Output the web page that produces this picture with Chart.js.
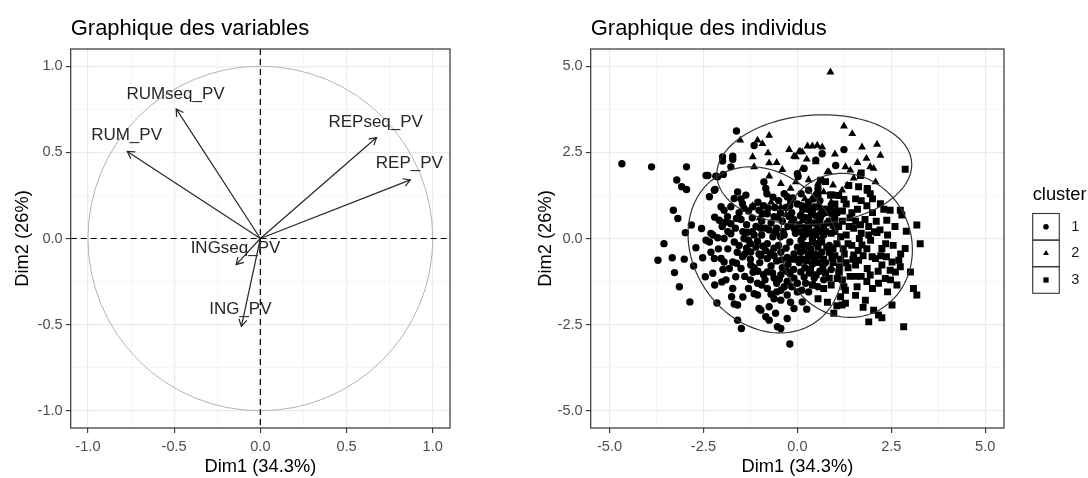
<!DOCTYPE html>
<html>
<head>
<meta charset="utf-8">
<script src="https://cdn.jsdelivr.net/npm/chart.js@4.4.1/dist/chart.umd.min.js"></script>
<style>
  body { margin: 0; background: #fff; }
  #wrap { position: relative; width: 1088px; height: 478px; }
  canvas { position: absolute; top: 0; }
  #varChart { left: 0; }
  #indChart { left: 530px; }
</style>
</head>
<body>
<div id="wrap">
  <canvas id="varChart" width="460" height="478"></canvas>
  <canvas id="indChart" width="558" height="478"></canvas>
</div>
<script>
// ---- variables plot (correlation circle) ----
const varNames = ['RUMseq_PV', 'RUM_PV', 'REPseq_PV', 'REP_PV', 'INGseq_PV', 'ING_PV'];
const varDim1 = [-0.488, -0.772, 0.674, 0.870, -0.140, -0.110];
const varDim2 = [0.752, 0.505, 0.586, 0.340, -0.152, -0.510];
const labelDim1 = [-0.492, -0.776, 0.669, 0.864, -0.144, -0.116];
const labelDim2 = [0.837, 0.597, 0.672, 0.437, -0.056, -0.413];
const varTicks = [-1, -0.5, 0, 0.5, 1];
const varMinorTicks = [-0.75, -0.25, 0.25, 0.75];

// ---- individuals plot ----
const indTicks = [-5, -2.5, 0, 2.5, 5];
const indMinorTicks = [-3.75, -1.25, 1.25, 3.75];
const clusterNames = ['1', '2', '3'];
const clusterStyles = ['circle', 'triangle', 'rect'];
const legendTitle = 'cluster';

const cluster1Points = [
  [-4.67, 2.17], [-3.88, 2.08], [-2.95, 2.08], [-3.21, 1.70], [-3.08, 1.50], [-2.95, 1.42], [-3.30, 0.82],
  [-3.18, 0.58], [-2.82, 0.39], [-2.98, 0.17], [-3.55, -0.15], [-2.38, 1.83], [-2.19, 1.42], [-2.34, 1.21],
  [-2.55, 0.29], [-1.62, 3.12], [-1.72, 2.39], [-1.77, 2.08], [-1.99, 2.37], [-1.99, 2.25], [-2.12, 1.79],
  [-1.97, 1.86], [-2.43, 1.83], [-2.17, 1.81], [-1.15, 2.70], [-0.89, 1.64], [-0.84, 1.45], [-0.81, 1.30],
  [0.00, 1.88], [0.66, 2.46], [1.24, 2.58], [1.02, 2.12], [0.49, 2.27], [0.02, 1.80], [0.18, 2.03],
  [-3.71, -0.63], [-3.33, -0.56], [-3.27, -0.99], [-3.14, -1.40], [-2.86, -1.84], [-3.01, -0.60], [-2.76, -0.80],
  [-2.70, -0.27], [-2.45, -1.11], [-2.52, -0.56], [-2.14, -1.87], [-2.01, -1.26], [-1.59, -2.37], [-1.49, -2.61],
  [-1.75, -1.69], [-1.68, -1.90], [-0.97, -2.08], [-0.75, -2.37], [-0.44, -2.61], [-0.20, -3.06], [-0.53, -2.56],
  [-2.25, -1.01], [-2.21, -0.58], [-1.59, -1.93], [-1.02, -2.03], [-0.84, -2.27], [-0.75, -1.98], [-0.58, -2.17],
  [-0.27, -2.32], [-0.09, -2.03], [-0.44, -1.79], [-1.06, -1.64], [-1.72, -1.45], [-1.64, -1.11], [-1.50, -0.87],
  [-1.81, -0.87], [-2.03, -0.58], [-1.95, -0.68], [-1.72, -0.68], [-1.46, -0.53], [-1.24, -0.39], [-2.43, -0.05],
  [-2.34, -0.10], [-2.25, 0.10], [-2.12, 0.02], [-1.95, 0.00], [-1.77, 0.14], [-1.68, -0.10], [-1.55, -0.20],
  [-1.42, 0.00], [-1.33, 0.18], [-1.15, 0.10], [-1.06, -0.08], [-1.24, -0.77], [-1.15, -0.85], [-1.06, -1.30],
  [-0.95, -1.35], [-0.80, -1.45], [-0.70, -1.62], [-0.62, -1.75], [-0.44, -1.50], [-0.27, -1.64], [-0.18, -1.85],
  [0.00, -1.55], [0.13, -1.84], [0.25, -2.05], [-0.80, -0.97], [-0.62, -1.15], [-0.44, -1.05], [-0.27, -1.25],
  [-0.09, -1.15], [0.09, -0.97], [0.22, -1.30], [-0.97, -0.50], [-0.80, -0.58], [-0.62, -0.50], [-0.44, -0.40],
  [-0.27, -0.55], [-0.09, -0.45], [0.09, -0.40], [0.27, -0.58],
  [-1.72, 2.30], [-2.21, 1.40], [-1.59, 1.35], [-1.37, 1.26], [-1.46, 1.01], [-1.68, 1.16], [-1.77, 0.92],
  [-2.03, 0.92], [-1.95, 0.82], [-1.86, 0.63], [-2.08, 0.53], [-1.77, 0.43], [-1.19, 0.92], [-1.02, 0.82],
  [-0.80, 0.72], [-0.62, 0.63], [-0.27, 1.21], [-0.18, 1.10],
  [-1.50, 0.55], [-1.35, 0.40], [-1.20, 0.60], [-1.10, 0.35], [-0.95, 0.50], [-0.85, 0.30], [-0.70, 0.45],
  [-0.55, 0.30], [-0.40, 0.50], [-0.25, 0.35], [-0.10, 0.55], [0.05, 0.40], [0.20, 0.60], [0.35, 0.45], [0.50, 0.65],
  [-1.45, 0.20], [-1.30, -0.05], [-1.10, -0.25], [-0.95, 0.10], [-0.80, -0.15], [-0.65, 0.05], [-0.50, -0.20],
  [-0.35, 0.10], [-0.20, -0.10], [-0.05, 0.15], [0.10, -0.05], [0.25, 0.20], [0.40, 0.00], [0.55, 0.25], [0.70, 0.10],
  [-1.40, -0.45], [-1.25, -0.60], [-1.00, -0.70], [-0.85, -0.35], [-0.70, -0.80], [-0.55, -0.65], [-0.40, -0.85],
  [-0.25, -0.75], [-0.10, -0.90], [0.05, -0.70], [0.20, -0.85], [0.35, -0.30], [0.50, -0.15], [0.65, -0.40], [0.40, -0.75],
  [-0.60, 0.90], [-0.45, 0.75], [-0.30, 0.90], [-0.15, 0.75], [0.00, 1.00], [0.15, 0.85], [0.30, 1.05], [0.45, 0.90],
  [0.60, 1.10], [-0.50, 1.10], [-0.35, 1.30], [0.10, 1.30], [0.30, 1.40], [0.55, 1.45], [-0.65, 1.20],
  [-1.30, 0.80], [-1.05, 1.05], [-0.90, 0.95], [-1.55, 0.75], [-1.65, 0.30], [-1.85, 0.20], [-2.00, 0.35],
  [-1.60, -0.40], [-1.85, -0.30], [-2.10, -0.30], [-2.30, -0.40], [-1.40, -1.10], [-1.25, -1.20], [-1.30, -1.45],
  [-1.15, -1.60], [-1.45, -1.70], [-1.90, -1.20], [-2.20, -1.35],
  [0.75, -0.70], [0.80, 0.45], [0.85, -0.20], [0.60, -0.95], [0.45, -1.15], [0.30, -1.55], [0.55, -1.40],
  [0.70, -1.20], [0.90, -0.90], [0.95, 0.70], [0.75, 0.85], [-0.55, -1.30], [-0.35, -1.40], [-0.90, -1.05], [-1.05, -0.95],
  [-0.92, 0.72], [-0.78, 0.88], [-0.52, 0.62], [-0.38, 0.20], [-0.22, 0.64], [-0.08, 0.28], [0.08, 0.66], [0.22, 0.12],
  [0.38, 0.72], [0.52, 0.42], [0.62, -0.05], [-0.92, -0.22], [-0.72, -0.42], [-0.58, 0.18], [-0.42, -0.62],
  [-0.30, -0.28], [-0.14, -0.60], [0.00, -0.25], [0.14, -0.18], [0.30, -0.48], [0.45, -0.60], [0.60, 0.58],
  [-1.20, 0.20], [-1.02, -0.45], [-1.18, -0.98], [-0.86, -1.20], [-0.66, -1.00], [-0.48, -1.18], [-0.20, -1.02],
  [0.00, -1.30], [0.18, -1.12], [0.12, 0.95], [-0.12, 1.18], [0.42, 1.15], [-1.62, 0.58], [-1.42, 0.88],
  [-1.90, 0.48], [-2.20, 0.62], [-2.30, 0.15], [-1.98, -0.90], [-1.62, -0.72], [-1.35, -0.28], [-1.50, 1.15],
  [-0.45, 0.05], [-0.15, 0.45], [0.28, 0.38], [0.48, 0.22], [0.18, -0.35], [-0.62, -0.28], [-0.28, -0.95],
  [0.32, -1.00], [-0.75, 0.25], [-0.05, -0.60], [0.68, 0.72], [0.28, 0.85], [-0.20, 0.95], [-0.98, 0.30],
  [-1.25, -0.15], [0.55, -0.50], [0.12, -1.50], [-0.55, -1.55], [-0.15, -1.40], [0.42, -1.35]
];

const cluster2Points = [
  [0.88, 4.83], [1.24, 3.26], [1.46, 3.04], [-0.22, 2.58], [-0.09, 2.39], [0.07, 2.53], [0.40, 2.68], [0.53, 2.70],
  [0.66, 2.65], [1.72, 2.65], [2.12, 2.73], [2.21, 2.41], [1.84, 2.32], [1.94, 2.08], [2.03, 2.03], [1.28, 2.08],
  [1.41, 1.98], [0.13, 2.03], [0.84, 1.93], [1.33, 1.54], [1.19, 1.40], [2.08, 1.64], [-1.52, 2.85], [-0.75, 2.99],
  [-1.06, 2.85], [-0.93, 2.75], [-1.19, 2.37], [-0.78, 2.48], [-0.75, 2.19], [-1.15, 2.08], [0.04, 2.51],
  [-0.04, 2.37], [0.27, 2.68], [-0.75, 1.81], [-0.44, 1.59], [-0.18, 1.45], [-0.04, 1.64], [-1.19, 0.95],
  [-0.44, 0.92], [0.49, 2.22], [0.80, 1.93], [0.13, 2.51], [0.30, 1.70], [0.55, 1.60], [0.70, 1.35], [0.95, 1.55],
  [0.20, 1.15], [0.45, 1.25], [-0.30, 0.70], [0.10, 0.75], [0.60, 0.95], [0.90, 1.05], [1.05, 0.85], [-0.70, 1.05],
  [-1.00, 0.60], [0.35, 0.85], [1.60, 2.20], [1.00, 2.45], [0.25, 2.30], [-0.55, 2.20], [-0.40, 2.00], [1.50, 1.75]
];

const cluster3Points = [
  [2.87, 2.01], [1.68, 1.83], [1.70, 1.90], [0.62, 1.69], [0.75, 1.65], [1.37, 1.54], [1.63, 1.50], [1.86, 1.45],
  [1.94, 1.30], [2.21, 1.01], [2.47, 0.82], [2.74, 0.82], [2.78, 0.68], [3.18, 0.39], [0.88, 1.26], [1.24, 1.13],
  [2.12, 0.17], [2.40, 0.10], [2.90, 0.21], [3.27, -0.15], [2.87, -0.29], [2.25, -0.29], [1.72, -0.19], [1.99, -0.53],
  [2.08, -0.58], [2.37, -0.53], [2.25, -0.77], [2.52, -0.68], [2.70, -0.63], [2.74, -0.82], [2.47, -0.92],
  [2.61, -0.97], [3.01, -0.97], [3.09, -1.45], [3.18, -1.64], [2.34, -1.16], [2.16, -1.30], [1.94, -1.06],
  [1.86, -0.87], [1.59, -1.40], [1.81, -1.79], [1.24, -1.40], [1.28, -1.50], [1.15, -1.69], [1.28, -1.88],
  [1.19, -1.93], [0.97, -2.17], [2.52, -1.93], [2.03, -2.08], [2.16, -2.22], [2.25, -2.30], [1.90, -2.42],
  [2.83, -2.56], [1.50, -0.48], [1.55, -0.77], [1.63, -0.63], [1.10, -0.97], [1.06, -1.16], [2.38, 0.53],
  [1.86, 1.40], [0.93, 1.26],
  [0.20, 0.90], [0.40, 0.70], [0.60, 0.55], [0.80, 0.75], [1.00, 0.55], [1.20, 0.80], [1.40, 0.60], [1.60, 0.85],
  [1.80, 0.55], [2.00, 0.75], [0.30, 0.30], [0.50, 0.10], [0.70, 0.35], [0.90, 0.15], [1.10, 0.35], [1.30, 0.10],
  [1.50, 0.30], [1.70, 0.15], [1.90, 0.35], [2.10, 0.50], [0.25, -0.20], [0.45, -0.45], [0.65, -0.10], [0.85, -0.40],
  [1.05, -0.15], [1.25, -0.45], [1.45, -0.20], [1.65, 0.00], [1.85, -0.30], [0.35, -0.90], [0.55, -0.70],
  [0.75, -1.00], [0.95, -0.70], [1.15, -0.60], [1.35, -0.85], [1.40, -1.10], [1.70, -1.10], [2.00, -1.45],
  [0.70, -1.45], [0.90, -1.35], [0.55, -1.75], [0.40, -1.35], [1.55, -1.65], [1.75, -2.00], [2.40, -1.55],
  [2.65, -1.35], [0.15, 0.55], [1.00, 1.00], [1.30, 1.00], [1.55, 1.15], [0.80, -1.85], [1.05, -1.95], [0.10, -0.60],
  [0.05, 0.20], [2.20, 0.25], [2.55, -0.20], [1.95, -0.05], [2.15, -0.95], [0.55, 1.30], [1.10, 1.25],
  [0.15, 0.05], [0.35, 0.15], [0.55, -0.25], [0.75, 0.20], [0.95, -0.30], [1.15, 0.05], [1.35, -0.15], [1.55, 0.50],
  [1.75, -0.50], [1.20, 0.50], [0.85, 0.50], [0.45, 0.45], [0.65, 0.85], [1.45, 0.75], [1.85, 0.95], [2.30, 0.85],
  [2.05, 0.20], [2.35, -0.15], [1.00, -0.50], [0.70, -0.60], [1.30, -0.70], [0.50, -1.05], [0.85, -1.15],
  [1.20, -1.20], [1.55, -1.10], [1.85, -1.25], [0.25, -0.65], [0.30, 0.60], [0.90, 0.90], [2.60, 0.35],
  [2.75, -0.45], [2.00, 1.15], [1.70, 1.10], [0.60, 0.20], [1.00, 0.20],
  [0.40, -0.10], [0.62, 0.68], [0.78, -0.25], [1.05, 0.75], [1.22, -0.30], [1.38, 0.35], [0.50, 0.92],
  [0.92, -0.55], [1.62, -0.35], [1.12, -0.82], [0.68, -0.82], [1.48, -0.60], [0.95, 0.38], [1.68, 0.40],
  [2.22, -0.50], [2.48, -1.20], [0.20, 0.30], [1.90, 0.10]
];

// confidence ellipses per cluster (centre, semi-axes, rotation in degrees)
const ellipseCenterX = [-0.85, 0.45, 1.30];
const ellipseCenterY = [-0.33, 2.00, -0.20];
const ellipseRadiusA = [2.50, 2.60, 2.10];
const ellipseRadiusB = [1.95, 1.58, 1.75];
const ellipseAngle = [115, 5, 100];

// ---- shared styling ----
const FONT = '"Liberation Sans", Arial, sans-serif';
Chart.defaults.font.family = FONT;
Chart.defaults.animation = false;

function toXY(points) {
    return points.map(p => ({ x: p[0], y: p[1] }));
}

function buildTicks(major, minor) {
    return function (scale) {
        const all = major.map(v => ({ value: v, minor: false }))
            .concat(minor.map(v => ({ value: v, minor: true })));
        all.sort((a, b) => a.value - b.value);
        scale.ticks = all;
    };
}

function axisOptions(range, major, minor, title, fitSize, isY, titlePad) {
    return {
        type: 'linear',
        min: -range,
        max: range,
        afterBuildTicks: buildTicks(major, minor),
        afterFit: scale => {
            if (isY) scale.width = fitSize; else scale.height = fitSize;
        },
        border: { display: false },
        grid: {
            color: c => (c.tick && c.tick.minor) ? '#f4f4f4' : '#ebebeb',
            lineWidth: c => (c.tick && c.tick.minor) ? 0.8 : 1.2,
            tickColor: c => (c.tick && c.tick.minor) ? 'rgba(0,0,0,0)' : '#333333',
            tickLength: 5,
            tickWidth: 1.1
        },
        ticks: {
            autoSkip: false,
            maxRotation: 0,
            padding: isY ? 3 : 5,
            color: '#4d4d4d',
            font: { size: 14.6 },
            callback: (v, i, ticks) => ticks[i].minor ? '' : v.toFixed(1)
        },
        title: {
            display: true,
            text: title,
            color: '#000',
            font: { size: 18.3 },
            padding: isY ? { top: titlePad, bottom: 0 } : { top: 0, bottom: 0 }
        }
    };
}

function titleOptions(text) {
    return {
        display: true,
        text: text,
        align: 'start',
        fullSize: false,
        color: '#000',
        font: { size: 22, weight: 'normal' },
        padding: { top: 16, bottom: 6.6 }
    };
}

const panelBorder = {
    id: 'panelBorder',
    afterDraw(chart) {
        const { ctx, chartArea: a } = chart;
        ctx.save();
        ctx.strokeStyle = '#333333';
        ctx.lineWidth = 1.2;
        ctx.strokeRect(a.left, a.top, a.right - a.left, a.bottom - a.top);
        ctx.restore();
    }
};

// circle and zero lines behind the arrows
const circlePlugin = {
    id: 'corCircle',
    beforeDatasetsDraw(chart) {
        const { ctx, chartArea: a, scales: { x, y } } = chart;
        const cx = x.getPixelForValue(0), cy = y.getPixelForValue(0);
        ctx.save();
        ctx.strokeStyle = '#b3b3b3';
        ctx.lineWidth = 1;
        ctx.beginPath();
        ctx.ellipse(cx, cy, x.getPixelForValue(1) - cx, cy - y.getPixelForValue(1), 0, 0, Math.PI * 2);
        ctx.stroke();
        ctx.strokeStyle = '#000';
        ctx.lineWidth = 1.2;
        ctx.setLineDash([6, 4]);
        ctx.beginPath();
        ctx.moveTo(a.left, cy); ctx.lineTo(a.right, cy);
        ctx.moveTo(cx, a.top); ctx.lineTo(cx, a.bottom);
        ctx.stroke();
        ctx.restore();
    },
    afterDatasetsDraw(chart) {
        const { ctx, scales: { x, y } } = chart;
        const ox = x.getPixelForValue(0), oy = y.getPixelForValue(0);
        ctx.save();
        ctx.strokeStyle = '#262626';
        ctx.lineWidth = 1.2;
        varNames.forEach((name, i) => {
            const tx = x.getPixelForValue(varDim1[i]), ty = y.getPixelForValue(varDim2[i]);
            const ang = Math.atan2(ty - oy, tx - ox);
            ctx.beginPath();
            ctx.moveTo(tx - 8 * Math.cos(ang - Math.PI / 6), ty - 8 * Math.sin(ang - Math.PI / 6));
            ctx.lineTo(tx, ty);
            ctx.lineTo(tx - 8 * Math.cos(ang + Math.PI / 6), ty - 8 * Math.sin(ang + Math.PI / 6));
            ctx.stroke();
        });
        ctx.fillStyle = '#262626';
        ctx.font = '17px ' + FONT;
        ctx.textAlign = 'center';
        ctx.textBaseline = 'middle';
        varNames.forEach((name, i) => {
            ctx.fillText(name, x.getPixelForValue(labelDim1[i]), y.getPixelForValue(labelDim2[i]));
        });
        ctx.restore();
    }
};

const ellipsePlugin = {
    id: 'clusterEllipses',
    afterDatasetsDraw(chart) {
        const { ctx, chartArea: a, scales: { x, y } } = chart;
        ctx.save();
        ctx.beginPath();
        ctx.rect(a.left, a.top, a.right - a.left, a.bottom - a.top);
        ctx.clip();
        ctx.strokeStyle = '#333333';
        ctx.lineWidth = 1.2;
        for (let k = 0; k < ellipseCenterX.length; k++) {
            const rot = ellipseAngle[k] * Math.PI / 180;
            ctx.beginPath();
            for (let s = 0; s <= 180; s++) {
                const t = s / 180 * Math.PI * 2;
                const dx = ellipseRadiusA[k] * Math.cos(t);
                const dy = ellipseRadiusB[k] * Math.sin(t);
                const px = x.getPixelForValue(ellipseCenterX[k] + dx * Math.cos(rot) - dy * Math.sin(rot));
                const py = y.getPixelForValue(ellipseCenterY[k] + dx * Math.sin(rot) + dy * Math.cos(rot));
                if (s === 0) ctx.moveTo(px, py); else ctx.lineTo(px, py);
            }
            ctx.closePath();
            ctx.stroke();
        }
        ctx.restore();
    }
};

const markerSizes = [3.7, 4.6, 4.9];
const legendMarkerSizes = [2.8, 3.4, 3.7];

const clusterLegend = {
    id: 'clusterLegend',
    afterDraw(chart) {
        const ctx = chart.ctx;
        const left = chart.chartArea.right + 28.7;
        const key = 26.6;
        ctx.save();
        ctx.font = '18.3px ' + FONT;
        ctx.fillStyle = '#000';
        ctx.textAlign = 'left';
        ctx.textBaseline = 'middle';
        ctx.fillText(legendTitle, left, 195);
        clusterNames.forEach((name, i) => {
            const top = 213.5 + i * key;
            ctx.strokeStyle = '#333333';
            ctx.lineWidth = 1.1;
            ctx.strokeRect(left, top, key, key);
            ctx.fillStyle = '#000';
            Chart.helpers.drawPoint(ctx, {
                pointStyle: clusterStyles[i], radius: legendMarkerSizes[i], rotation: 0, borderWidth: 0
            }, left + key / 2, top + key / 2);
            ctx.fillStyle = '#1a1a1a';
            ctx.font = '14.6px ' + FONT;
            ctx.fillText(name, left + 38.5, top + key / 2);
        });
        ctx.restore();
    }
};

// ---- left chart: variables ----
new Chart(document.getElementById('varChart'), {
    type: 'scatter',
    data: {
        datasets: varNames.map((name, i) => ({
            label: name,
            data: [{ x: 0, y: 0 }, { x: varDim1[i], y: varDim2[i] }],
            showLine: true,
            borderColor: '#262626',
            borderWidth: 1.2,
            pointRadius: 0
        }))
    },
    options: {
        responsive: false,
        devicePixelRatio: 1,
        events: [],
        layout: { padding: { left: 0, right: 10, top: 0, bottom: 0 } },
        plugins: {
            legend: { display: false },
            tooltip: { enabled: false },
            title: titleOptions('Graphique des variables')
        },
        scales: {
            x: axisOptions(1.1, varTicks, varMinorTicks, 'Dim1 (34.3%)', 50, false, 0),
            y: axisOptions(1.1, varTicks, varMinorTicks, 'Dim2 (26%)', 70.7, true, 12)
        }
    },
    plugins: [circlePlugin, panelBorder]
});

// ---- right chart: individuals ----
const clusterData = [cluster1Points, cluster2Points, cluster3Points];
new Chart(document.getElementById('indChart'), {
    type: 'scatter',
    data: {
        datasets: clusterNames.map((name, i) => ({
            label: name,
            data: toXY(clusterData[i]),
            pointStyle: clusterStyles[i],
            pointRadius: markerSizes[i],
            backgroundColor: '#000',
            borderColor: '#000',
            borderWidth: 0
        }))
    },
    options: {
        responsive: false,
        devicePixelRatio: 1,
        events: [],
        layout: { padding: { left: 0, right: 84, top: 0, bottom: 0 } },
        plugins: {
            legend: { display: false },
            tooltip: { enabled: false },
            title: titleOptions('Graphique des individus')
        },
        scales: {
            x: axisOptions(5.5, indTicks, indMinorTicks, 'Dim1 (34.3%)', 50, false, 0),
            y: axisOptions(5.5, indTicks, indMinorTicks, 'Dim2 (26%)', 60.7, true, 5)
        }
    },
    plugins: [ellipsePlugin, panelBorder, clusterLegend]
});
</script>
</body>
</html>
